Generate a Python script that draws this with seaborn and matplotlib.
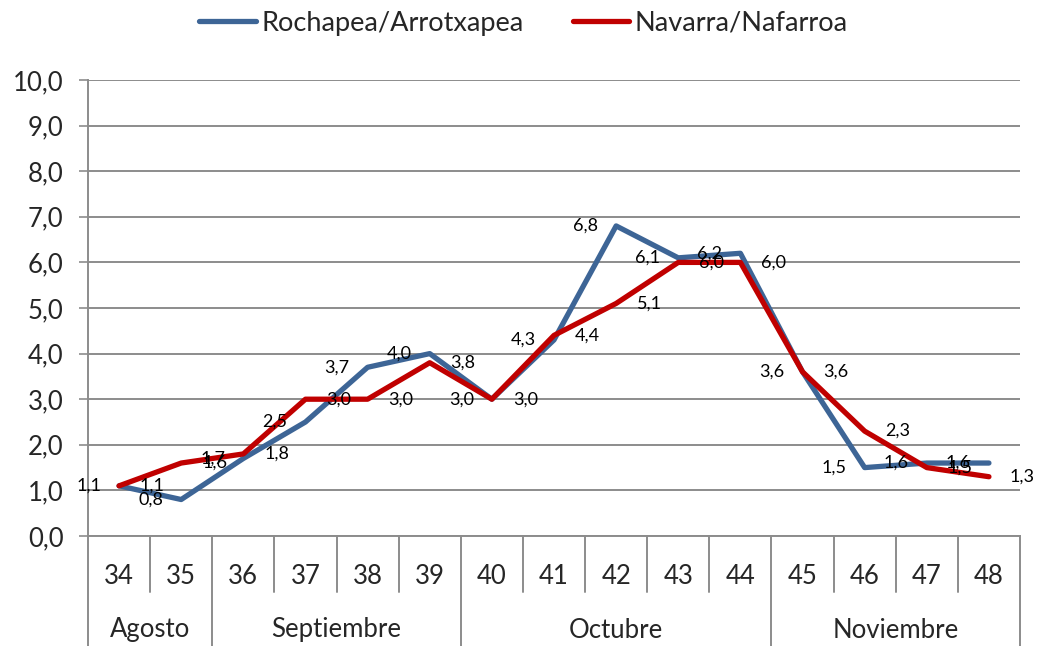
import pandas as pd
import matplotlib
matplotlib.use("Agg")
import matplotlib.pyplot as plt
import matplotlib.transforms as mtransforms
import seaborn as sns

# data
weeks = ["34", "35", "36", "37", "38", "39", "40", "41", "42", "43", "44", "45", "46", "47", "48"]
months = ["Agosto", "Septiembre", "Octubre", "Noviembre"]
month_sizes = [2, 4, 5, 4]
rochapea = [1.1, 0.8, 1.7, 2.5, 3.7, 4.0, 3.0, 4.3, 6.8, 6.1, 6.2, 3.6, 1.5, 1.6, 1.6]
navarra = [1.1, 1.6, 1.8, 3.0, 3.0, 3.8, 3.0, 4.4, 5.1, 6.0, 6.0, 3.6, 2.3, 1.5, 1.3]
series_names = ["Rochapea/Arrotxapea", "Navarra/Nafarroa"]
colors = {"Rochapea/Arrotxapea": "#3D6596", "Navarra/Nafarroa": "#C00000"}

sns.set_style("white")
plt.rcParams["font.family"] = ["Lato", "DejaVu Sans"]

df = pd.DataFrame({
    "pos": list(range(len(weeks))) * 2,
    "valor": rochapea + navarra,
    "serie": [series_names[0]] * len(weeks) + [series_names[1]] * len(weeks),
})

fig = plt.figure(figsize=(10.41, 6.46), dpi=100)
ax = fig.add_axes([88 / 1041, 1 - 536 / 646, (1020 - 88) / 1041, (536 - 80) / 646])

sns.lineplot(data=df, x="pos", y="valor", hue="serie", hue_order=series_names,
             palette=colors, linewidth=3.8, ax=ax, sort=False)

grid_c = "#8C8C8C"
ax.set_xlim(-0.5, len(weeks) - 0.5)
ax.set_ylim(0, 10)
ax.set_yticks([i for i in range(11)])
ax.set_yticklabels([f"{i},0" for i in range(11)], fontsize=18.5)
ax.yaxis.grid(True, color=grid_c, linewidth=1.4)
ax.set_axisbelow(True)
ax.tick_params(axis="y", length=6.5, width=1.2, color=grid_c, direction="out", pad=11, left=True)
ax.set_xticks([])
ax.set_xlabel("")
ax.set_ylabel("")
for s in ["top", "right"]:
    ax.spines[s].set_visible(False)
for s in ["left", "bottom"]:
    ax.spines[s].set_color(grid_c)
    ax.spines[s].set_linewidth(1.4)

# data labels: blue to the left, red to the right
for i, v in enumerate(rochapea):
    ax.annotate(f"{v:.1f}".replace(".", ","), (i, v), xytext=(-13, 0), textcoords="offset points",
                ha="right", va="center", fontsize=13, color="black")
for i, v in enumerate(navarra):
    ax.annotate(f"{v:.1f}".replace(".", ","), (i, v), xytext=(15, 0), textcoords="offset points",
                ha="left", va="center", fontsize=13, color="black")

# two-level category axis
trans = mtransforms.blended_transform_factory(ax.transData, ax.transAxes)
ax_h = 456.0
y_inner = -(592 - 536) / ax_h
y_outer = -(646 - 536) / ax_h
y_week = -(577 - 536) / ax_h
y_month = -(630 - 536) / ax_h

month_bounds = [-0.5]
for n in month_sizes:
    month_bounds.append(month_bounds[-1] + n)
for i in range(len(weeks) + 1):
    x = i - 0.5
    y_end = y_outer if x in month_bounds else y_inner
    ax.plot([x, x], [0, y_end], transform=trans, color=grid_c, linewidth=1.4, clip_on=False)
for i, w in enumerate(weeks):
    ax.text(i, y_week, w, transform=trans, ha="center", va="center", fontsize=18.5)
for m, a, b in zip(months, month_bounds[:-1], month_bounds[1:]):
    ax.text((a + b) / 2, y_month, m, transform=trans, ha="center", va="center", fontsize=18.5)

sns.move_legend(ax, "center", bbox_to_anchor=(0.503, 1 - 23 / 646), bbox_transform=fig.transFigure,
                ncol=2, frameon=False, title=None, fontsize=19.5, handlelength=2.1,
                handletextpad=0.2, columnspacing=1.8)

fig.savefig("out.png", dpi=100)
